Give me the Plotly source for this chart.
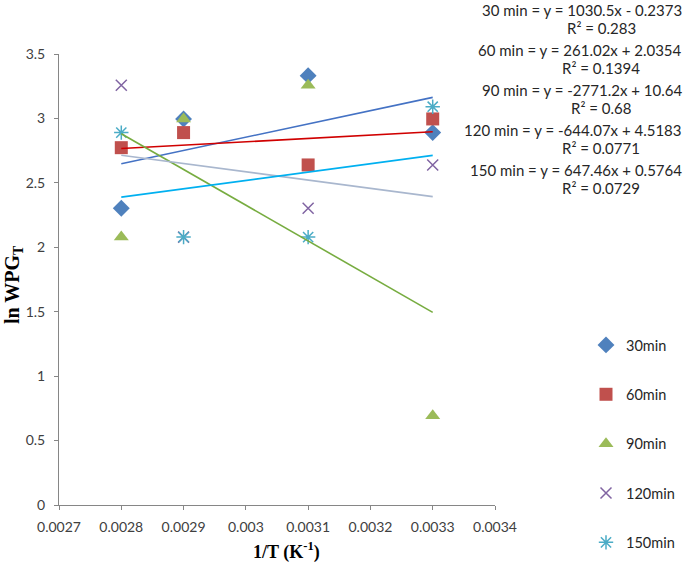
import plotly.graph_objects as go

inv_T = [0.0028, 0.0029, 0.0031, 0.0033]
series_names = ["30min", "60min", "90min", "120min", "150min"]
ln_wpg_30 = [2.303, 2.996, 3.332, 2.890]
ln_wpg_60 = [2.773, 2.890, 2.639, 2.996]
ln_wpg_90 = [2.079, 2.996, 3.258, 0.693]
ln_wpg_120 = [3.258, 2.079, 2.303, 2.639]
ln_wpg_150 = [2.890, 2.079, 2.079, 3.091]

eq_labels = ["30 min = y = 1030.5x - 0.2373", "60 min = y = 261.02x + 2.0354",
             "90 min = y = -2771.2x + 10.64", "120 min = y = -644.07x + 4.5183",
             "150 min = y = 647.46x + 0.5764"]
r2_labels = ["R² = 0.283", "R² = 0.1394", "R² = 0.68", "R² = 0.0771", "R² = 0.0729"]
slopes = [1030.5, 261.02, -2771.2, -644.07, 647.46]
intercepts = [-0.2373, 2.0354, 10.64, 4.5183, 0.5764]

x_ticks = [0.0027, 0.0028, 0.0029, 0.003, 0.0031, 0.0032, 0.0033, 0.0034]
y_ticks = [0, 0.5, 1, 1.5, 2, 2.5, 3, 3.5]

values = [ln_wpg_30, ln_wpg_60, ln_wpg_90, ln_wpg_120, ln_wpg_150]
marker_colors = ["#4F81BD", "#C0504D", "#9BBB59", "#8064A2", "#4BACC6"]
symbols = ["diamond", "square", "triangle-up", "x-thin-open", "asterisk-open"]
sizes = [13, 13, 13, 11, 12]
line_colors = ["#4472C4", "#D00000", "#77AC40", "#A9B7CE", "#00B0F0"]

W, H = 685, 563
PL, PR, PT, PB = 59, 495, 54, 505
PW, PH = PR - PL, PB - PT

fig = go.Figure()
for i, name in enumerate(series_names):
    mk = dict(symbol=symbols[i], size=sizes[i], color=marker_colors[i])
    if symbols[i].endswith("open"):
        mk["line"] = dict(color=marker_colors[i], width=1.5)
    fig.add_trace(go.Scatter(x=inv_T, y=values[i], mode="markers", name=name,
                             marker=mk, legendgroup=name))

x_fit = [min(inv_T), max(inv_T)]
for i, name in enumerate(series_names):
    y_fit = [slopes[i] * x + intercepts[i] for x in x_fit]
    fig.add_trace(go.Scatter(x=x_fit, y=y_fit, mode="lines", showlegend=False,
                             line=dict(color=line_colors[i], width=1.6),
                             hoverinfo="skip"))

def px(xs):
    return (xs - PL) / PW

def py(ys):
    return (PB - ys) / PH

txt_font = dict(family="Lato", size=15, color="#262626")
for i in range(5):
    ytop = 10 + 40 * i
    fig.add_annotation(text=eq_labels[i], xref="paper", yref="paper",
                       x=px(684), y=py(ytop), xanchor="right", yanchor="middle",
                       showarrow=False, font=txt_font)
    fig.add_annotation(text=r2_labels[i], xref="paper", yref="paper",
                       x=px(601), y=py(ytop + 18), xanchor="center", yanchor="middle",
                       showarrow=False, font=txt_font)

# axis titles
fig.add_annotation(text="<b>ln WPG<sub>T</sub></b>", xref="paper", yref="paper",
                   x=px(13), y=py(285), xanchor="center", yanchor="middle",
                   textangle=-90, showarrow=False,
                   font=dict(family="Liberation Serif", size=20, color="black"))
fig.add_annotation(text="<b>1/T (K<sup>-1</sup>)</b>", xref="paper", yref="paper",
                   x=px(286), y=py(551), xanchor="center", yanchor="middle",
                   showarrow=False,
                   font=dict(family="Liberation Serif", size=18, color="black"))

fig.update_layout(
    width=W, height=H,
    margin=dict(l=PL, r=W - PR, t=PT, b=H - PB),
    paper_bgcolor="white", plot_bgcolor="white",
    font=dict(family="Lato", size=14, color="#404040"),
    legend=dict(xref="container", yref="container", x=(606 - 20) / W,
                y=1 - (344 - 15) / H,
                xanchor="left", yanchor="top", tracegroupgap=27.5,
                font=dict(family="Lato", size=14.5, color="#262626"),
                bgcolor="rgba(0,0,0,0)"),
    xaxis=dict(range=[0.0027, 0.0034], tickvals=x_ticks,
               ticktext=[str(v) for v in x_ticks],
               showgrid=False, zeroline=False, showline=True,
               linecolor="#868686", linewidth=1, ticks="outside",
               tickcolor="#868686", ticklen=4, ticklabelstandoff=5),
    yaxis=dict(range=[0, 3.5], tickvals=y_ticks,
               ticktext=[str(v) for v in y_ticks],
               showgrid=False, zeroline=False, showline=True,
               linecolor="#868686", linewidth=1, ticks="outside",
               tickcolor="#868686", ticklen=4, ticklabelstandoff=6),
)

fig.write_html("out.html", config={"displayModeBar": False},
               post_script="document.body.style.margin='0';document.body.style.padding='0';")
